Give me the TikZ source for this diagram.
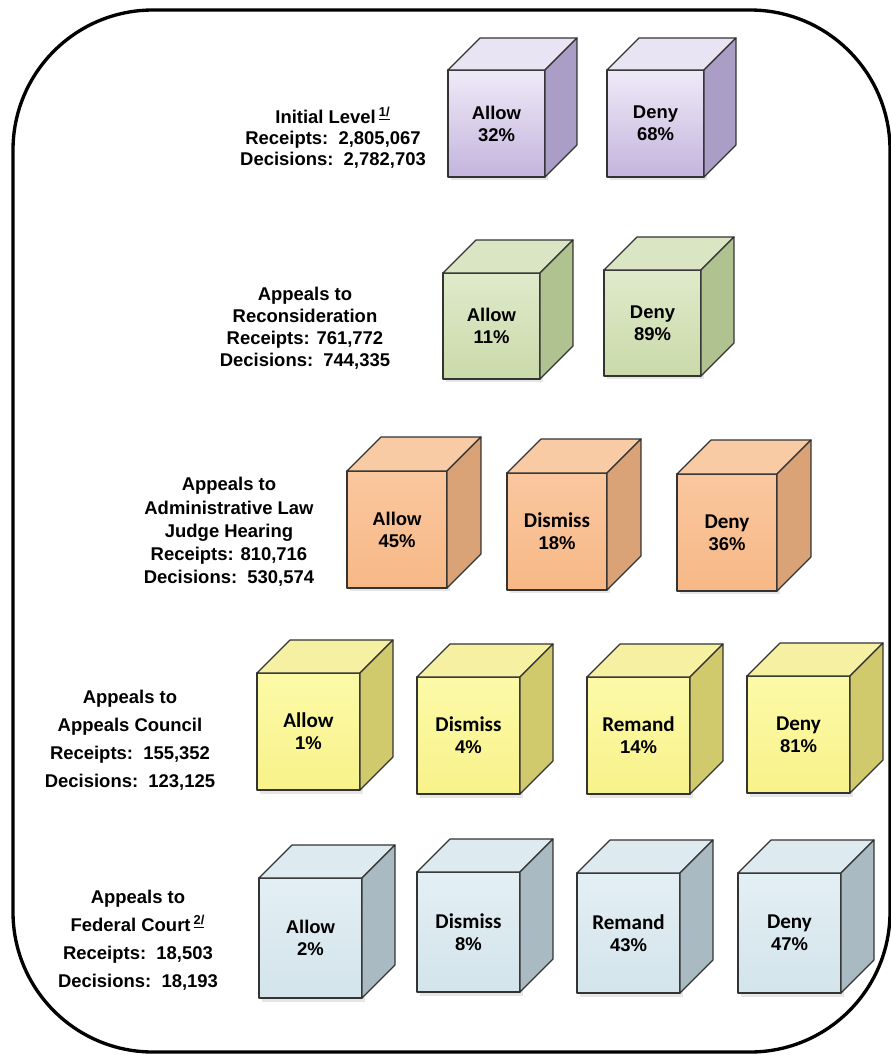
\documentclass[tikz,border=0pt]{standalone}
\usepackage{fontspec}
\setmainfont{Liberation Sans}
\newfontfamily\calfont{Carlito}
\usepackage{tikz}
\usetikzlibrary{shadows}

\definecolor{purpLt}{HTML}{EFEAF7}
\definecolor{purp}{HTML}{C3B5DD}
\definecolor{purpSd}{HTML}{AA9DC6}
\definecolor{purpTp}{HTML}{E9E4F3}
\definecolor{grnLt}{HTML}{DFEACB}
\definecolor{grn}{HTML}{CADAA9}
\definecolor{grnSd}{HTML}{B0C28F}
\definecolor{grnTp}{HTML}{DAE6C3}
\definecolor{orgLt}{HTML}{FAC79F}
\definecolor{org}{HTML}{F7B886}
\definecolor{orgSd}{HTML}{D9A277}
\definecolor{orgTp}{HTML}{F9CBA4}
\definecolor{ylwLt}{HTML}{FCFAA8}
\definecolor{ylw}{HTML}{F8F28A}
\definecolor{ylwSd}{HTML}{D0CA6C}
\definecolor{ylwTp}{HTML}{F6F1A2}
\definecolor{bluLt}{HTML}{E3EFF4}
\definecolor{blu}{HTML}{D3E4EB}
\definecolor{bluSd}{HTML}{A9BAC2}
\definecolor{bluTp}{HTML}{DDEAF0}

% cube: name, front top-left corner, colour, text
\newcommand{\boxcube}[4]{%
	\node[front, top color=#3Lt, bottom color=#3, minimum width=\cw, minimum height=\ch] (#1) at #2 {#4};
	\draw[face, fill=#3Tp] (#1.north west) -- ++(\cd,\cd) -- ++(\cw,0pt) -- (#1.north east) -- cycle;
	\draw[face, fill=#3Sd] (#1.north east) -- ++(\cd,\cd) -- ++(0pt,-\ch) -- (#1.south east) -- cycle;
}

\begin{document}
\begin{tikzpicture}[x=0.02cm, y=-0.02cm,
	face/.style={draw=black!80, line width=0.7pt, line join=round},
	front/.style={face, anchor=north west, inner sep=0pt, outer sep=0pt, align=center,
		drop shadow={opacity=0.2, shadow xshift=1.5pt, shadow yshift=-2pt},
		font=\bfseries\fontsize{10.5}{12.5}\selectfont},
	lbl/.style={align=center, font=\bfseries\fontsize{10.5}{12.5}\selectfont}]

	\useasboundingbox (0,0) rectangle (891,1055);
	\draw[line width=1.9pt, rounded corners=2.8cm] (13,10) rectangle (890,1052);

	% initial level
	\def\cw{1.94cm}\def\ch{2.14cm}\def\cd{0.64cm}
	\node[lbl, font=\bfseries\fontsize{10.5}{12}\selectfont] (init) at (333,138)
		{Initial Level\,\textsuperscript{\underline{1/}}\\Receipts:\ \ 2,805,067\\Decisions:\ \ 2,782,703};
	\boxcube{initallow}{(448,70)}{purp}{Allow\\32\%}
	\boxcube{initdeny}{(607,70)}{purp}{Deny\\68\%}

	% reconsideration
	\def\cw{1.94cm}\def\ch{2.12cm}\def\cd{0.66cm}
	\node[lbl] (recon) at (305,328)
		{Appeals to\\Reconsideration\\Receipts: 761,772\\Decisions:\ \ 744,335};
	\boxcube{reconallow}{(443,273)}{grn}{Allow\\11\%}
	\boxcube{recondeny}{(604,270)}{grn}{Deny\\89\%}

	% ALJ hearing
	\def\cw{2cm}\def\ch{2.34cm}\def\cd{0.68cm}
	\node[lbl, font=\bfseries\fontsize{10.5}{13.2}\selectfont] (alj) at (229,532)
		{Appeals to\\Administrative Law\\Judge Hearing\\Receipts: 810,716\\Decisions:\ \ 530,574};
	\boxcube{aljallow}{(347,471)}{org}{Allow\\45\%}
	\boxcube{aljdismiss}{(507,473)}{org}{\calfont\fontsize{12}{14}\selectfont Dismiss\\18\%}
	\boxcube{aljdeny}{(677,474)}{org}{\calfont\fontsize{12}{14}\selectfont Deny\\36\%}

	% appeals council
	\def\cw{2.06cm}\def\ch{2.34cm}\def\cd{0.66cm}
	\node[lbl, font=\bfseries\fontsize{10.5}{16}\selectfont] (council) at (130,740)
		{Appeals to\\Appeals Council\\Receipts:\ \ 155,352\\Decisions:\ \ 123,125};
	\boxcube{counallow}{(257,673)}{ylw}{\calfont\fontsize{12}{14}\selectfont Allow\\1\%}
	\boxcube{coundismiss}{(417,677)}{ylw}{\calfont\fontsize{12}{14}\selectfont Dismiss\\4\%}
	\boxcube{counremand}{(587,677)}{ylw}{\calfont\fontsize{12}{14}\selectfont Remand\\14\%}
	\boxcube{coundeny}{(747,676)}{ylw}{\calfont\fontsize{12}{14}\selectfont Deny\\81\%}

	% federal court
	\def\cw{2.06cm}\def\ch{2.4cm}\def\cd{0.66cm}
	\node[lbl, font=\bfseries\fontsize{10.5}{16}\selectfont] (court) at (138,940)
		{Appeals to\\Federal Court\,\textsuperscript{\underline{2/}}\\Receipts:\ \ 18,503\\Decisions:\ \ 18,193};
	\boxcube{courtallow}{(259,878)}{blu}{Allow\\2\%}
	\boxcube{courtdismiss}{(417,872)}{blu}{\calfont\fontsize{12}{14}\selectfont Dismiss\\8\%}
	\boxcube{courtremand}{(577,873)}{blu}{\calfont\fontsize{12}{14}\selectfont Remand\\43\%}
	\boxcube{courtdeny}{(738,873)}{blu}{\calfont\fontsize{12}{14}\selectfont Deny\\47\%}

\end{tikzpicture}
\end{document}
